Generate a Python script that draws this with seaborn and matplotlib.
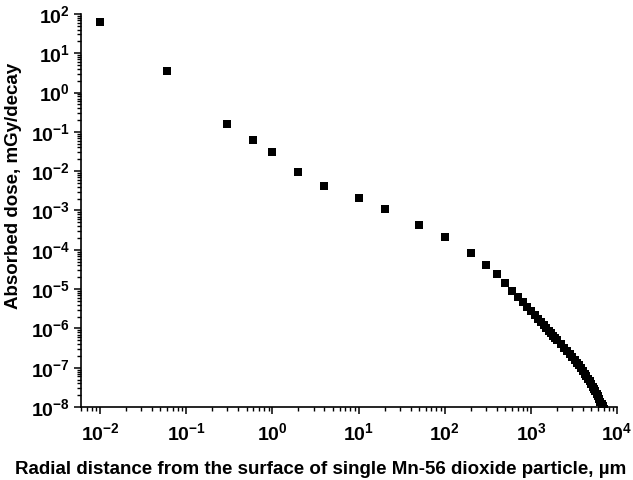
import pandas as pd
import matplotlib
matplotlib.use("Agg")
import matplotlib.pyplot as plt
import seaborn as sns
from matplotlib.ticker import FixedLocator, LogLocator, NullFormatter

sns.set_theme(style="ticks")
plt.rcParams["font.family"] = ["Liberation Sans", "DejaVu Sans"]
plt.rcParams["font.weight"] = "bold"
plt.rcParams["mathtext.fontset"] = "custom"
plt.rcParams["mathtext.rm"] = "Liberation Sans:bold"
plt.rcParams["mathtext.it"] = "Liberation Sans:bold"
plt.rcParams["mathtext.bf"] = "Liberation Sans:bold"
plt.rcParams["axes.unicode_minus"] = False
plt.rcParams["text.color"] = "black"
plt.rcParams["axes.labelcolor"] = "black"
plt.rcParams["xtick.color"] = "black"
plt.rcParams["ytick.color"] = "black"

# radial distance from particle surface, um
distance = [0.01, 0.06, 0.3, 0.6, 1, 2, 4, 10, 20, 50, 100, 200, 300, 400, 500,
            600, 700, 800, 900, 1000, 1100, 1200, 1300, 1400, 1500, 1600, 1700,
            1800, 1900, 2000, 2200, 2400, 2600, 2800, 3000, 3200, 3400, 3600,
            3800, 4000, 4200, 4400, 4600, 4800, 5000, 5200, 5400, 5600, 5800,
            6000, 6200, 6400, 6600, 6800, 7000, 7200]

# absorbed dose, mGy/decay
dose = [64, 3.5, 0.157, 0.063, 0.031, 0.0096, 0.0042, 0.0021, 0.00108, 4.2e-4,
        2.1e-4, 8.4e-5, 4.2e-5, 2.4e-5, 1.4e-5,
        9.2e-6, 6.3e-6, 4.6e-6, 3.5e-6, 2.7e-6, 2.15e-6, 1.74e-6, 1.44e-6,
        1.2e-6, 1.02e-6, 8.75e-7, 7.55e-7, 6.6e-7, 5.8e-7, 5.12e-7,
        4.06e-7, 3.26e-7, 2.69e-7, 2.24e-7, 1.87e-7, 1.58e-7, 1.34e-7,
        1.14e-7, 9.66e-8, 8.28e-8, 7.1e-8, 6.1e-8, 5.2e-8, 4.5e-8, 3.86e-8,
        3.32e-8, 2.95e-8, 2.57e-8, 2.19e-8, 1.86e-8, 1.58e-8, 1.35e-8,
        1.2e-8, 1.05e-8, 8.8e-9, 7.2e-9]

x_ticks = [1e-2, 1e-1, 1e0, 1e1, 1e2, 1e3, 1e4]
y_ticks = [1e-8, 1e-7, 1e-6, 1e-5, 1e-4, 1e-3, 1e-2, 1e-1, 1e0, 1e1, 1e2]

df = pd.DataFrame({"distance": distance, "dose": dose})

fig, ax = plt.subplots(figsize=(6.33, 4.8), dpi=100)
fig.subplots_adjust(left=0.128, right=0.975, top=0.971, bottom=0.152)

sns.scatterplot(data=df, x="distance", y="dose", ax=ax, marker="s", s=28,
                color="black", edgecolor="black", linewidth=0, clip_on=True)

ax.set_xscale("log")
ax.set_yscale("log")
ax.set_xlim(0.006, 1e4)
ax.set_ylim(1e-8, 1e2)

ax.xaxis.set_major_locator(FixedLocator(x_ticks))
ax.yaxis.set_major_locator(FixedLocator(y_ticks))
ax.xaxis.set_minor_locator(LogLocator(base=10, subs=range(2, 10), numticks=100))
ax.yaxis.set_minor_locator(LogLocator(base=10, subs=range(2, 10), numticks=100))
ax.xaxis.set_minor_formatter(NullFormatter())
ax.yaxis.set_minor_formatter(NullFormatter())

for s in ["top", "right"]:
    ax.spines[s].set_visible(False)
for s in ["left", "bottom"]:
    ax.spines[s].set_linewidth(1.2)
    ax.spines[s].set_color("black")

ax.tick_params(which="major", direction="out", length=5, width=1.1,
               color="black", labelsize=14, pad=3)
ax.tick_params(axis="x", which="major", pad=6)
ax.tick_params(which="minor", direction="out", length=2.8, width=1.0,
               color="black")
for lab in ax.get_xticklabels() + ax.get_yticklabels():
    lab.set_fontweight("bold")

ax.set_xlabel("Radial distance from the surface of single Mn-56 dioxide particle, µm",
              fontsize=13.5, fontweight="bold", labelpad=12)
ax.set_ylabel("Absorbed dose, mGy/decay", fontsize=13.5, fontweight="bold",
              labelpad=6)
# labels sit off-centre relative to the axes in the original
ax.xaxis.label.set_x(0.446)
ax.yaxis.label.set_y(0.562)

fig.savefig("out.png", dpi=100)
